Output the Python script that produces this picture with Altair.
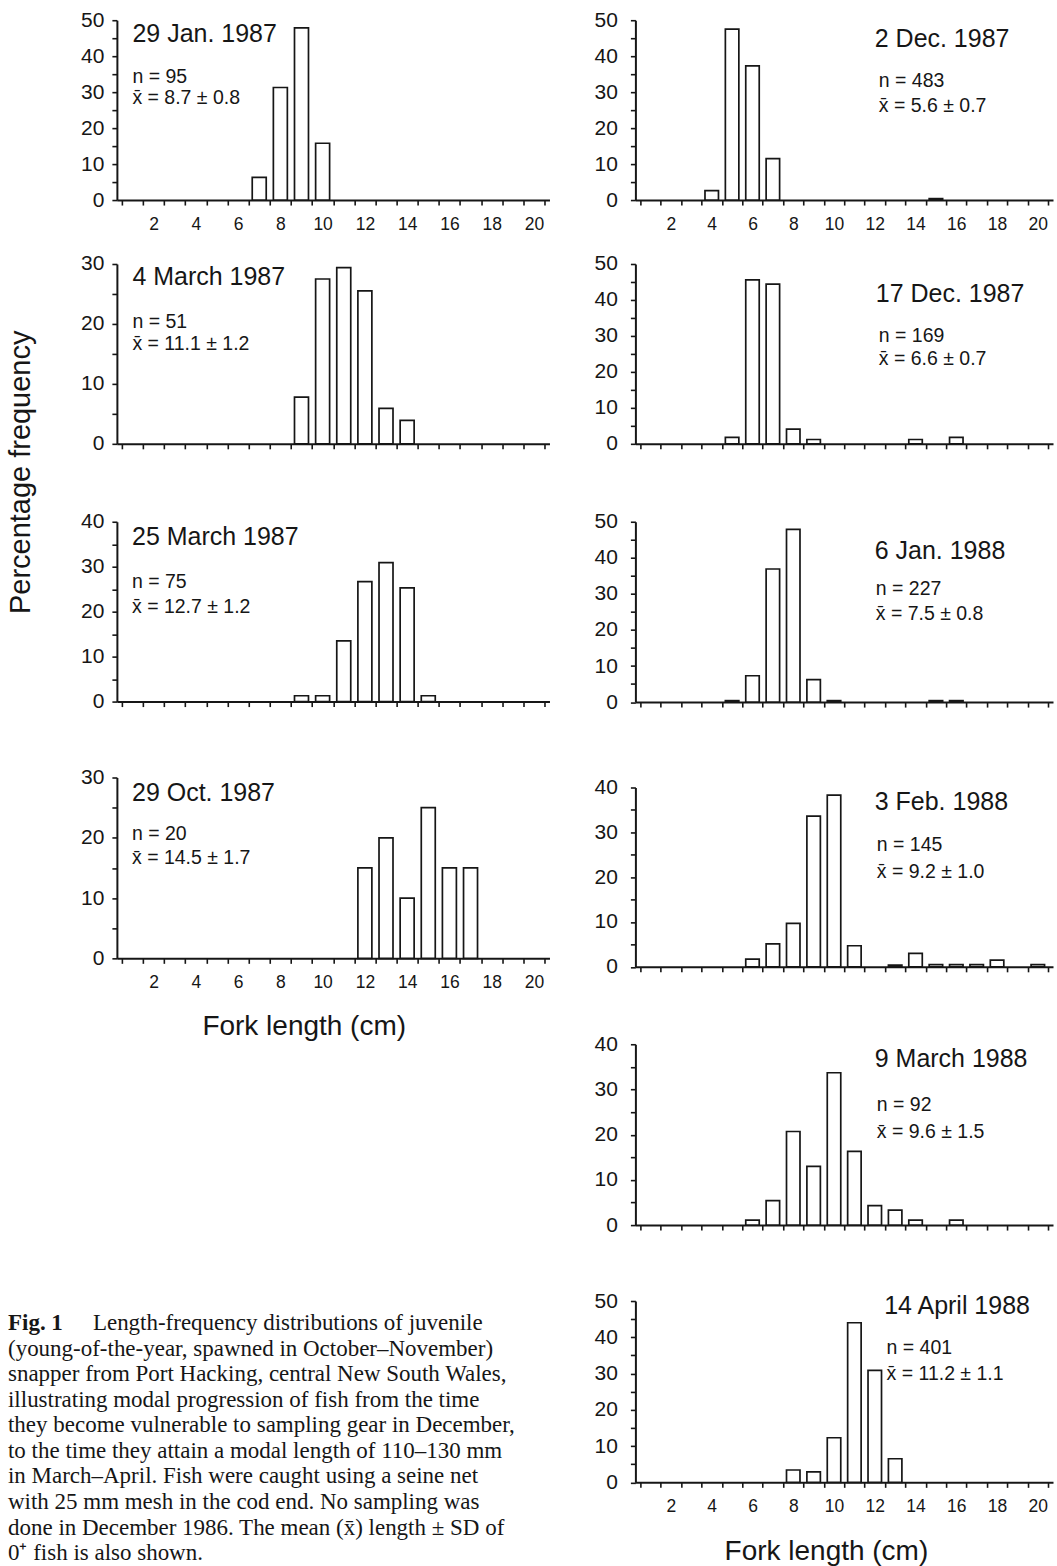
import altair as alt
import pandas as pd

SANS = "Liberation Sans"
SERIF = "Liberation Serif"
INK = "#161616"

# ---- percentage frequency by 1-cm fork-length class, one pair of lists per sample ----
jan87_len = [7, 8, 9, 10]
jan87_pct = [6.3, 31.3, 47.9, 15.8]

mar87a_len = [9, 10, 11, 12, 13, 14]
mar87a_pct = [7.8, 27.5, 29.4, 25.5, 5.9, 3.9]

mar87b_len = [9, 10, 11, 12, 13, 14, 15]
mar87b_pct = [1.3, 1.3, 13.5, 26.7, 30.9, 25.3, 1.3]

oct87_len = [12, 13, 14, 15, 16, 17]
oct87_pct = [15, 20, 10, 25, 15, 15]

dec87a_len = [4, 5, 6, 7, 15]
dec87a_pct = [2.6, 47.5, 37.3, 11.5, 0.4]

dec87b_len = [5, 6, 7, 8, 9, 14, 16]
dec87b_pct = [1.8, 45.6, 44.4, 4.1, 1.2, 1.2, 1.8]

jan88_len = [5, 6, 7, 8, 9, 10, 15, 16]
jan88_pct = [0.4, 7.3, 36.9, 47.9, 6.2, 0.4, 0.4, 0.4]

feb88_len = [6, 7, 8, 9, 10, 11, 13, 14, 15, 16, 17, 18, 20]
feb88_pct = [1.7, 5.1, 9.7, 33.6, 38.3, 4.7, 0.4, 3.0, 0.5, 0.5, 0.5, 1.5, 0.5]

mar88_len = [6, 7, 8, 9, 10, 11, 12, 13, 14, 16]
mar88_pct = [1.1, 5.4, 20.7, 13.0, 33.7, 16.3, 4.3, 3.3, 1.1, 1.1]

apr88_len = [8, 9, 10, 11, 12, 13]
apr88_pct = [3.4, 2.9, 12.3, 44.0, 30.9, 6.5]

# sample dates, sample sizes and mean length +/- SD
dates = ["29 Jan. 1987", "4 March 1987", "25 March 1987", "29 Oct. 1987",
         "2 Dec. 1987", "17 Dec. 1987", "6 Jan. 1988", "3 Feb. 1988",
         "9 March 1988", "14 April 1988"]
sizes = [95, 51, 75, 20, 483, 169, 227, 145, 92, 401]
means = ["8.7 ± 0.8", "11.1 ± 1.2", "12.7 ± 1.2", "14.5 ± 1.7",
         "5.6 ± 0.7", "6.6 ± 0.7", "7.5 ± 0.8", "9.2 ± 1.0",
         "9.6 ± 1.5", "11.2 ± 1.1"]
y_tops = [50, 30, 40, 30, 50, 50, 50, 40, 40, 50]

# where each panel's date / n / mean lines sit, in axis units (cm, %)
anchors = [
    [(1.00, 46.2), (1.00, 34.2), (1.00, 28.4)],
    [(1.00, 27.8), (1.00, 20.4), (1.00, 16.7)],
    [(0.98, 36.7), (0.98, 26.7), (0.98, 21.1)],
    [(0.98, 27.5), (0.98, 20.7), (0.98, 16.6)],
    [(12.00, 44.9), (12.20, 33.2), (12.20, 26.2)],
    [(12.05, 41.7), (12.20, 30.1), (12.20, 23.6)],
    [(12.00, 41.9), (12.05, 31.3), (12.05, 24.4)],
    [(12.00, 36.8), (12.10, 27.1), (12.10, 21.2)],
    [(12.00, 36.8), (12.10, 26.5), (12.10, 20.5)],
    [(12.46, 48.7), (12.58, 37.0), (12.58, 29.9)],
]

series = [(jan87_len, jan87_pct), (mar87a_len, mar87a_pct), (mar87b_len, mar87b_pct),
          (oct87_len, oct87_pct), (dec87a_len, dec87a_pct), (dec87b_len, dec87b_pct),
          (jan88_len, jan88_pct), (feb88_len, feb88_pct), (mar88_len, mar88_pct),
          (apr88_len, apr88_pct)]

caption_lines = [
    "(young-of-the-year, spawned in October–November)",
    "snapper from Port Hacking, central New South Wales,",
    "illustrating modal progression of fish from the time",
    "they become vulnerable to sampling gear in December,",
    "to the time they attain a modal length of 110–130 mm",
    "in March–April. Fish were caught using a seine net",
    "with 25 mm mesh in the cod end. No sampling was",
    "done in December 1986. The mean (x\u0304) length ± SD of",
    "0\u207a fish is also shown.",
]

# tick marks at class boundaries, labels at even lengths
X_TICKS = [i + 0.5 for i in range(21)]
X_LABELS = list(range(2, 21, 2))


def x_tick_axis():
    # axis line plus boundary ticks, no labels
    return alt.Axis(values=X_TICKS, orient="bottom", labels=False, ticks=True, tickSize=5,
                    domain=True, grid=False, title=None)


def x_label_axis(show_labels, title=None, tx=None, ty=None):
    # even-length labels only, drawn without ticks or line
    kw = dict(values=X_LABELS, orient="bottom", format="d", ticks=False, domain=False,
              labels=show_labels, labelPadding=15, labelFontSize=17.5, grid=False)
    if title:
        kw.update(title=title, titleX=tx, titleY=ty, titleAlign="center",
                  titleBaseline="middle", titleFontSize=28, titleFontWeight="normal")
    else:
        kw.update(title=None)
    return alt.Axis(**kw)


def y_axis(top, pad, title=None, tx=None, ty=None):
    kw = dict(
        values=list(range(0, top + 1, 5)), format="d",
        labelExpr="datum.value % 10 == 0 ? datum.label : ''",
        labelOverlap=False, labelFlush=False, labelPadding=pad,
        labelFontSize=21, tickSize=5, grid=False,
    )
    if title:
        kw.update(title=title, titleX=tx, titleY=ty, titleAngle=270, titleAlign="center",
                  titleBaseline="middle", titleFontSize=29, titleFontWeight="normal")
    else:
        kw.update(title=None)
    return alt.Axis(**kw)


def panel(i, width, height, bar_size, show_x_labels, ypad, ytitle=None, xtitle=None):
    lengths, pct = series[i]
    xs = alt.Scale(domain=[0.5, 20.5], nice=False, zero=False)
    ys = alt.Scale(domain=[0, y_tops[i]], nice=False, zero=False)
    Y = alt.Y("pct:Q", scale=ys, axis=y_axis(y_tops[i], ypad, *(ytitle or (None, None, None))))
    X_bars = alt.X("length:Q", scale=xs, axis=x_tick_axis())
    X_text = alt.X("length:Q", scale=xs,
                   axis=x_label_axis(show_x_labels, *(xtitle or (None, None, None))))

    bars = alt.Chart(pd.DataFrame({"length": lengths, "pct": pct})).mark_bar(
        size=bar_size, fill="white", stroke=INK, strokeWidth=1.7
    ).encode(x=X_bars, y=Y)

    (dx, dy), (sx1, sy1), (sx2, sy2) = anchors[i]
    date = alt.Chart(pd.DataFrame({"length": [dx], "pct": [dy], "t": [dates[i]]})).mark_text(
        align="left", baseline="middle", font=SANS, fontSize=25, color=INK
    ).encode(x=X_text, y=Y, text="t:N")
    stats = alt.Chart(pd.DataFrame({
        "length": [sx1, sx2], "pct": [sy1, sy2],
        "t": [f"n = {sizes[i]}", f"x\u0304 = {means[i]}"],
    })).mark_text(
        align="left", baseline="middle", font=SANS, fontSize=19.5, color=INK
    ).encode(x=X_text, y=Y, text="t:N")

    return alt.layer(bars, alt.layer(date, stats)).resolve_axis(x="independent").properties(
        width=width, height=height)


def spacer(h, w):
    return alt.Chart(pd.DataFrame({"s": [0]})).mark_point(opacity=0).encode(
        x=alt.X("s:Q", axis=None), y=alt.Y("s:Q", axis=None)
    ).properties(width=w, height=h)


LW, RW = 433, 418
CAP = 23

left = alt.vconcat(
    panel(0, LW, 180, 14, True, 8),
    spacer(63.5, LW),
    panel(1, LW, 180, 14, False, 8, ytitle=("Percentage frequency", -96, 208)),
    spacer(78, LW),
    panel(2, LW, 180, 14, False, 8),
    spacer(76, LW),
    panel(3, LW, 181, 14, True, 8, xtitle=("Fork length (cm)", 187, 68)),
    spacer(343, LW),
    alt.layer(
        alt.Chart(pd.DataFrame({"t": ["Fig. 1"]})).mark_text(
            align="left", baseline="alphabetic", font=SERIF, fontSize=CAP, fontWeight="bold", color=INK
        ).encode(x=alt.value(-109), y=alt.value(29), text="t:N"),
        alt.Chart(pd.DataFrame({"t": ["Length-frequency distributions of juvenile"]})).mark_text(
            align="left", baseline="alphabetic", font=SERIF, fontSize=CAP, color=INK
        ).encode(x=alt.value(-24), y=alt.value(29), text="t:N"),
        alt.Chart(pd.DataFrame({"t": ["\n".join(caption_lines)]})).mark_text(
            align="left", baseline="alphabetic", font=SERIF, fontSize=CAP, color=INK,
            lineBreak="\n", lineHeight=25.6
        ).encode(x=alt.value(-109), y=alt.value(54.6), text="t:N"),
    ).properties(width=LW, height=260),
    spacing=0, bounds="flush",
)

right = alt.vconcat(
    panel(4, RW, 180, 13.5, True, 13),
    spacer(63.5, RW),
    panel(5, RW, 180, 13.5, False, 13),
    spacer(77.5, RW),
    panel(6, RW, 180.5, 13.5, False, 13),
    spacer(84.5, RW),
    panel(7, RW, 179.5, 13.5, False, 13),
    spacer(76.5, RW),
    panel(8, RW, 181, 13.5, False, 13),
    spacer(75.5, RW),
    panel(9, RW, 181.5, 13.5, True, 13, xtitle=("Fork length (cm)", 190.7, 69.5)),
    spacing=0, bounds="flush",
)

chart = alt.hconcat(left, right, spacing=44).properties(
    padding={"left": 7, "top": 8.5, "right": 4, "bottom": 4},
    background="white",
).configure_view(stroke=None).configure_axis(
    domainColor=INK, domainWidth=2, tickColor=INK, tickWidth=1.6,
    labelColor=INK, labelFont=SANS, titleFont=SANS, titleColor=INK,
    labelOverlap=False, labelFlush=False,
)

chart.save("out.html", embed_options={"renderer": "svg", "actions": False})
